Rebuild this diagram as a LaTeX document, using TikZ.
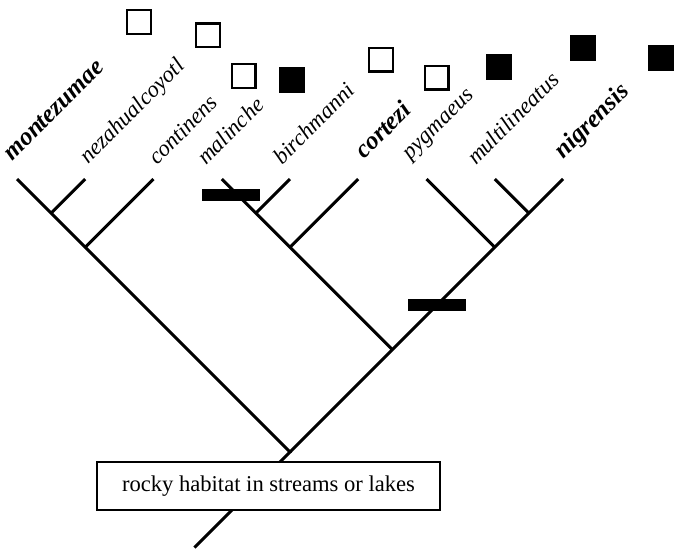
\documentclass[tikz,border=0pt]{standalone}
\usepackage{fontspec}
\setmainfont{Liberation Serif}
\begin{document}
\begin{tikzpicture}[x = 1.2cm, y = 1.2cm,
    branch/.style = {line width = 1.5pt},
    species/.style = {rotate = 45, anchor = base west, inner sep = 0pt,
                      font = \fontsize{11.4}{13}\selectfont\itshape},
    bigspecies/.style = {species, font = \fontsize{12.6}{14}\selectfont\bfseries\itshape},
    openbox/.style = {draw, line width = 1.2pt, fill = white, minimum size = 11.8pt, inner sep = 0pt},
    fullbox/.style = {fill = black, minimum size = 13pt, inner sep = 0pt},
    change/.style = {fill = black, minimum width = 29pt, minimum height = 6pt, inner sep = 0pt},
    habitatbox/.style = {draw, line width = 1pt, fill = white, minimum width = 171.6pt,
                         minimum height = 24pt, inner sep = 0pt, font = \fontsize{11.3}{13}\selectfont}]
    \useasboundingbox (-0.249, -5.465) rectangle (9.626, 2.623);
    % tips of the tree
    \foreach \name [count = \i from 0] in {mon, nez, con, mal, bir, cor, pyg, mul, nig}
        {\coordinate (\name) at (\i, 0);}
    % inner nodes
    \coordinate (monnez) at (0.5, -0.5);
    \coordinate (moncon) at (1, -1);
    \coordinate (malbir) at (3.5, -0.5);
    \coordinate (malcor) at (4, -1);
    \coordinate (mulnig) at (7.5, -0.5);
    \coordinate (pygnig) at (7, -1);
    \coordinate (malnig) at (5.5, -2.5);
    \coordinate (root) at (4, -4);
    \coordinate (base) at (2.6, -5.4);
    % branches
    \draw[branch] (base) -- (root) -- (mon);
    \draw[branch] (root) -- (nig);
    \draw[branch] (monnez) -- (nez);
    \draw[branch] (moncon) -- (con);
    \draw[branch] (malnig) -- (mal);
    \draw[branch] (malbir) -- (bir);
    \draw[branch] (malcor) -- (cor);
    \draw[branch] (pygnig) -- (pyg);
    \draw[branch] (mulnig) -- (mul);
    % names
    \node[bigspecies] (lmon) at (-0.073, 0.249) {montezumae};
    \node[species] (lnez) at (1.040, 0.205) {nezahualcoyotl};
    \node[species] (lcon) at (2.051, 0.190) {continens};
    \node[species] (lmal) at (2.769, 0.190) {malinche};
    \node[species] (lbir) at (3.883, 0.190) {birchmanni};
    \node[bigspecies] (lcor) at (5.084, 0.278) {cortezi};
    \node[species] (lpyg) at (5.758, 0.264) {pygmaeus};
    \node[species] (lmul) at (6.725, 0.190) {multilineatus};
    \node[bigspecies] (lnig) at (8.0, 0.278) {nigrensis};
    % character states
    \node[openbox] (smon) at (1.788, 2.300) {};
    \node[openbox] (snez) at (2.799, 2.103) {};
    \node[openbox] (scon) at (3.319, 1.509) {};
    \node[fullbox] (smal) at (4.025, 1.451) {};
    \node[openbox] (sbir) at (5.333, 1.748) {};
    \node[openbox] (scor) at (6.149, 1.483) {};
    \node[fullbox] (spyg) at (7.065, 1.645) {};
    \node[fullbox] (smul) at (8.297, 1.919) {};
    \node[fullbox] (snig) at (9.436, 1.769) {};
    % changes on branches
    \node[change] (bar1) at (3.136, -0.234) {};
    \node[change] (bar2) at (6.154, -1.846) {};
    \node[habitatbox] (habitat) at (3.685, -4.498) {rocky habitat in streams or lakes};
\end{tikzpicture}
\end{document}
